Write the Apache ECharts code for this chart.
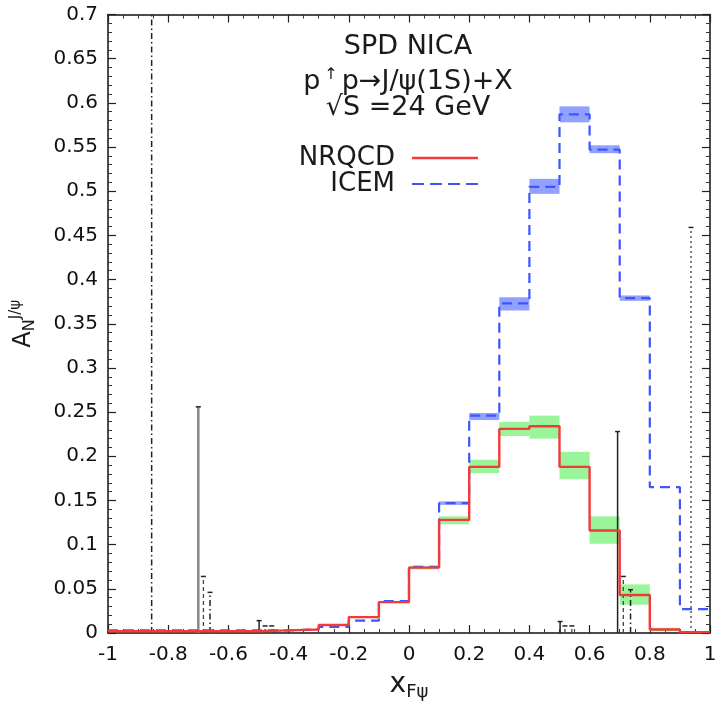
<!DOCTYPE html>
<html><head><meta charset="utf-8">
<script src="https://cdn.jsdelivr.net/npm/echarts@6/dist/echarts.min.js"></script>
<style>html,body{margin:0;padding:0;background:#fff}#c{width:720px;height:708px}</style>
</head><body><div id="c"></div>
<script>
// bin edges (left edges), width 0.1
const binEdges = [-1,-0.9,-0.8,-0.7,-0.6,-0.5,-0.4,-0.3,-0.2,-0.1,0,0.1,0.2,0.3,0.4,0.5,0.6,0.7,0.8,0.9,1.0];
const nrqcd = [0.002,0.002,0.002,0.002,0.002,0.003,0.004,0.009,0.018,0.035,0.074,0.128,0.188,0.231,0.234,0.188,0.116,0.043,0.004,0.001];
const icem  = [0.003,0.003,0.003,0.003,0.003,0.003,0.004,0.007,0.014,0.036,0.075,0.147,0.246,0.373,0.505,0.587,0.547,0.379,0.165,0.027];
// uncertainty bands: [xlo, xhi, lo, hi]
const nrqcdBand = [[0.0,0.1,0.072,0.076],[0.1,0.2,0.123,0.132],[0.2,0.3,0.181,0.196],[0.3,0.4,0.223,0.239],[0.4,0.5,0.220,0.246],[0.5,0.6,0.174,0.205],[0.6,0.7,0.101,0.132],[0.7,0.8,0.032,0.055],[0.8,0.9,0.002,0.006]];
const icemBand = [[0.1,0.2,0.145,0.149],[0.2,0.3,0.241,0.249],[0.3,0.4,0.365,0.380],[0.4,0.5,0.497,0.514],[0.5,0.6,0.578,0.596],[0.6,0.7,0.543,0.552],[0.7,0.8,0.376,0.382]];
// black vertical error-like lines: x, top, style
const vlineX   = [-0.855,-0.700,-0.683,-0.661,-0.498,-0.478,-0.456,0.502,0.518,0.541,0.693,0.712,0.736,0.937];
const vlineTop = [0.700,0.256,0.064,0.046,0.014,0.008,0.008,0.013,0.008,0.008,0.228,0.064,0.049,0.459];
const vlineSty = ['dashdot','grey','dash','dashdot','solid','dash','dash','solid','dash','dash','solid','dash','dashdot','dot'];
const xTicks = [-1,-0.8,-0.6,-0.4,-0.2,0,0.2,0.4,0.6,0.8,1];
const yTicks = [0,0.05,0.1,0.15,0.2,0.25,0.3,0.35,0.4,0.45,0.5,0.55,0.6,0.65,0.7];

function stepData(vals){
  const d = vals.map((v,i)=>[binEdges[i], v]);
  d.push([binEdges[binEdges.length-1], vals[vals.length-1]]);
  return d;
}
const FONT = 'DejaVu Sans';
const chart = echarts.init(document.getElementById('c'), null, {renderer:'canvas'});
const axisCommon = {
  axisLine:{show:true,onZero:false,lineStyle:{color:'#111',width:1.5}},
  axisTick:{show:true,inside:true,length:8,lineStyle:{color:'#222',width:1.2}},
  minorTick:{show:true,splitNumber:4,length:4,lineStyle:{color:'#333',width:1}},
  splitLine:{show:false}
};
function bandSeries(data, color){
  return {type:'custom', silent:true, z:1, data:data, encode:{x:[0,1],y:[2,3]},
    renderItem:function(params, api){
      const p1 = api.coord([api.value(0), api.value(3)]);
      const p2 = api.coord([api.value(1), api.value(2)]);
      return {type:'rect', shape:{x:p1[0], y:p1[1], width:p2[0]-p1[0], height:Math.max(p2[1]-p1[1],2)}, style:{fill:color}};
    }};
}
const styleMap = {
  dashdot:{stroke:'#222',lineWidth:1.5,lineDash:[6,3,1.5,3]},
  grey:{stroke:'#888',lineWidth:2.5,lineDash:null},
  dash:{stroke:'#444',lineWidth:1.3,lineDash:[4,3]},
  solid:{stroke:'#222',lineWidth:1.5,lineDash:null},
  dot:{stroke:'#555',lineWidth:1.5,lineDash:[2,3]}
};
const vlineData = vlineX.map((x,i)=>[x, vlineTop[i], i]);
const option = {
  animation:false,
  backgroundColor:'#fff',
  textStyle:{fontFamily:FONT},
  grid:{left:108,right:10,top:14.5,bottom:75,containLabel:false,outerBoundsMode:'none'},
  xAxis:[
    Object.assign({type:'value',min:-1,max:1,interval:0.2,position:'bottom',
      axisLabel:{color:'#111',fontSize:20,fontFamily:FONT,margin:12,
        formatter:v=>{const t=xTicks.find(a=>Math.abs(a-v)<1e-9);return t===undefined?'':String(t);}},
      name:'{x|x}{s|Fψ}', nameLocation:'middle', nameGap:36,
      nameTextStyle:{rich:{x:{fontSize:28,fontFamily:FONT,color:'#1a1a1a'},s:{fontSize:18,fontFamily:FONT,color:'#1a1a1a',verticalAlign:'bottom',padding:[14,0,0,0]}}}
    }, axisCommon),
    Object.assign({type:'value',min:-1,max:1,interval:0.2,position:'top',axisLabel:{show:false}}, axisCommon)
  ],
  yAxis:[
    Object.assign({type:'value',min:0,max:0.7,interval:0.05,
      axisLabel:{color:'#111',fontSize:20,fontFamily:FONT,margin:10,
        formatter:v=>{const t=yTicks.find(a=>Math.abs(a-v)<1e-9);return t===undefined?'':String(t);}},
      name:'{a|A}{s|N}{p|J/ψ}', nameLocation:'middle', nameGap:70, nameRotate:90,
      nameTextStyle:{rich:{a:{fontSize:24,fontFamily:FONT,color:'#1a1a1a'},s:{fontSize:16,fontFamily:FONT,color:'#1a1a1a',padding:[12,0,0,0]},p:{fontSize:15,fontFamily:FONT,color:'#1a1a1a',padding:[0,0,14,0]}}}
    }, axisCommon, {minorTick:{show:true,splitNumber:5,length:4,lineStyle:{color:'#333',width:1}}}),
    Object.assign({type:'value',min:0,max:0.7,interval:0.05,position:'right',axisLabel:{show:false}}, axisCommon, {minorTick:{show:true,splitNumber:5,length:4,lineStyle:{color:'#333',width:1}}})
  ],
  legend:{
    data:[
      {name:'NRQCD', icon:'rect'},
      {name:'ICEM', icon:'path://M0,0h12v2h-12z M18,0h12v2h-12z M36,0h12v2h-12z M54,0h12v2h-12z'}
    ],
    orient:'vertical', align:'right', right:237, top:140,
    itemWidth:66, itemHeight:2.5, itemGap:0,
    textStyle:{fontSize:26,fontFamily:FONT,color:'#1a1a1a',padding:[0,12,0,0]}
  },
  graphic:[
    {type:'text', x:408, y:47, style:{text:'SPD NICA', font:'27px "DejaVu Sans"', fill:'#1a1a1a', align:'center', verticalAlign:'middle'}},
    {type:'text', x:408, y:82, style:{rich:{b:{font:'27px "DejaVu Sans"',fill:'#1a1a1a'},u:{font:'16px "DejaVu Sans"',fill:'#1a1a1a',padding:[0,4,14,4]}}, text:'{b|p}{u|↑}{b|p→J/ψ(1S)+X}', align:'center', verticalAlign:'middle'}},
    {type:'text', x:408, y:108, style:{text:'√S =24 GeV', font:'27px "DejaVu Sans"', fill:'#1a1a1a', align:'center', verticalAlign:'middle'}}
  ],
  series:[
    bandSeries(nrqcdBand,'rgba(120,240,120,0.75)'),
    bandSeries(icemBand,'rgba(100,120,255,0.7)'),
    {type:'custom', silent:true, z:2, data:vlineData, encode:{x:0,y:1},
      renderItem:function(params, api){
        const x = api.value(0), top = api.value(1), idx = api.value(2);
        const p0 = api.coord([x,0]), p1 = api.coord([x,top]);
        const st = styleMap[vlineSty[idx]];
        const children = [{type:'line', shape:{x1:p0[0],y1:p0[1],x2:p1[0],y2:p1[1]}, style:{stroke:st.stroke,lineWidth:st.lineWidth,lineDash:st.lineDash}}];
        if (top < 0.6) children.push({type:'line', shape:{x1:p1[0]-2.5,y1:p1[1],x2:p1[0]+2.5,y2:p1[1]}, style:{stroke:'#222',lineWidth:1.5}});
        return {type:'group', children:children};
      }},
    {name:'ICEM', type:'line', step:'end', data:stepData(icem), showSymbol:false, symbol:'none', z:3,
      lineStyle:{color:'#3c55ff',width:2.2,type:[10,6]}, itemStyle:{color:'#3c55ff'}},
    {name:'NRQCD', type:'line', step:'end', data:stepData(nrqcd), showSymbol:false, symbol:'none', z:4,
      lineStyle:{color:'#f23a3a',width:2.4}, itemStyle:{color:'#f23a3a'}}
  ]
};
chart.setOption(option);
</script></body></html>
